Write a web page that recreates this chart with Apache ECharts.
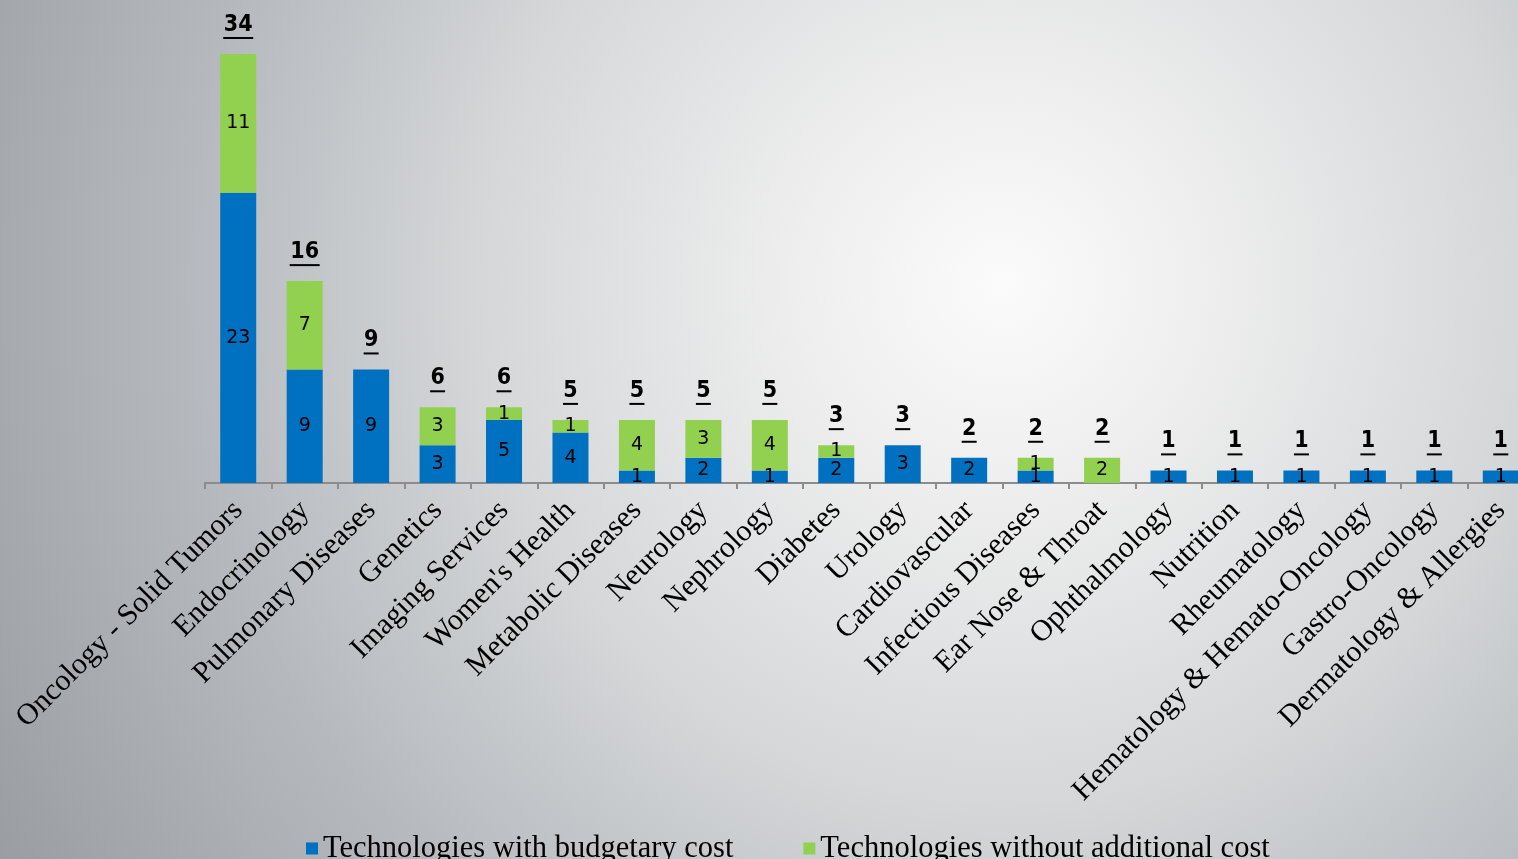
<!DOCTYPE html>
<html>
<head>
<meta charset="utf-8">
<script src="https://cdn.jsdelivr.net/npm/echarts@6/dist/echarts.min.js"></script>
<style>
  html, body { margin: 0; padding: 0; overflow: hidden; }
  #wrap {
    width: 1518px;
    height: 859px;
    overflow: hidden;
    background: radial-gradient(circle at 66% 33%, #fbfbfb 0%, #eeeeee 18%, #d5d7d9 45%, #b6babe 70%, #9a9ea3 100%);
  }
  /* 图表比窗口宽一些，最后一个分类伸出右边缘 */
  #chart { width: 1560px; height: 859px; }
</style>
</head>
<body>
<div id="wrap"><div id="chart"></div></div>
<script>
// 分类
const categories = [
  "Oncology - Solid Tumors", "Endocrinology", "Pulmonary Diseases", "Genetics",
  "Imaging Services", "Women's Health", "Metabolic Diseases", "Neurology",
  "Nephrology", "Diabetes", "Urology", "Cardiovascular", "Infectious Diseases",
  "Ear Nose & Throat", "Ophthalmology", "Nutrition", "Rheumatology",
  "Hematology & Hemato-Oncology", "Gastro-Oncology", "Dermatology & Allergies"
];
// 有预算成本
const budgetary = [23, 9, 9, 3, 5, 4, 1, 2, 1, 2, 3, 2, 1, 0, 1, 1, 1, 1, 1, 1];
// 无额外成本
const noCost = [11, 7, 0, 3, 1, 1, 4, 3, 4, 1, 0, 0, 1, 2, 0, 0, 0, 0, 0, 0];
// 合计
const totals = [34, 16, 9, 6, 6, 5, 5, 5, 5, 3, 3, 2, 2, 2, 1, 1, 1, 1, 1, 1];

const chart = echarts.init(document.getElementById("chart"));

const barLabel = {
  show: true,
  position: "inside",
  color: "#000",
  fontFamily: "DejaVu Sans",
  fontSize: 19,
  formatter: (p) => (p.value ? p.value : "")
};

chart.setOption({
  backgroundColor: "transparent",
  animation: false,
  grid: { left: 205, top: 54, width: 1329, bottom: 376, containLabel: false },
  legend: {
    left: 301,
    top: 828,
    itemWidth: 12,
    itemHeight: 12,
    itemGap: 70,
    icon: "rect",
    textStyle: { fontFamily: "Liberation Serif", fontSize: 30.5, color: "#000" },
    data: ["Technologies with budgetary cost", "Technologies without additional cost"]
  },
  xAxis: {
    type: "category",
    data: categories,
    boundaryGap: true,
    axisLine: { lineStyle: { color: "#8c8c8c", width: 2 } },
    axisTick: { show: true, length: 6, lineStyle: { color: "#8c8c8c", width: 2 } },
    axisLabel: {
      interval: 0,
      rotate: 45,
      margin: 23,
      color: "#000",
      fontFamily: "Liberation Serif",
      fontSize: 30
    }
  },
  yAxis: { type: "value", min: 0, max: 34, show: false, splitLine: { show: false } },
  series: [
    {
      name: "Technologies with budgetary cost",
      type: "bar",
      stack: "total",
      barWidth: 36,
      data: budgetary,
      itemStyle: { color: "#0070c0" },
      label: barLabel
    },
    {
      name: "Technologies without additional cost",
      type: "bar",
      stack: "total",
      barWidth: 36,
      data: noCost,
      itemStyle: { color: "#92d050" },
      label: barLabel
    },
    {
      // 顶部合计（加粗下划线）
      type: "custom",
      data: totals.map((v, i) => [i, v]),
      z: 10,
      renderItem: (params, api) => {
        const pt = api.coord([api.value(0), api.value(1)]);
        const txt = String(api.value(1));
        const half = txt.length * 7.5;
        return {
          type: "group",
          children: [
            {
              type: "text",
              style: {
                text: txt,
                x: pt[0],
                y: pt[1] - 29,
                align: "center",
                verticalAlign: "middle",
                fill: "#000",
                font: "bold 23px 'DejaVu Sans Condensed'"
              }
            },
            {
              type: "line",
              shape: { x1: pt[0] - half, y1: pt[1] - 16, x2: pt[0] + half, y2: pt[1] - 16 },
              style: { stroke: "#000", lineWidth: 2 }
            }
          ]
        };
      }
    }
  ]
});
</script>
</body>
</html>
